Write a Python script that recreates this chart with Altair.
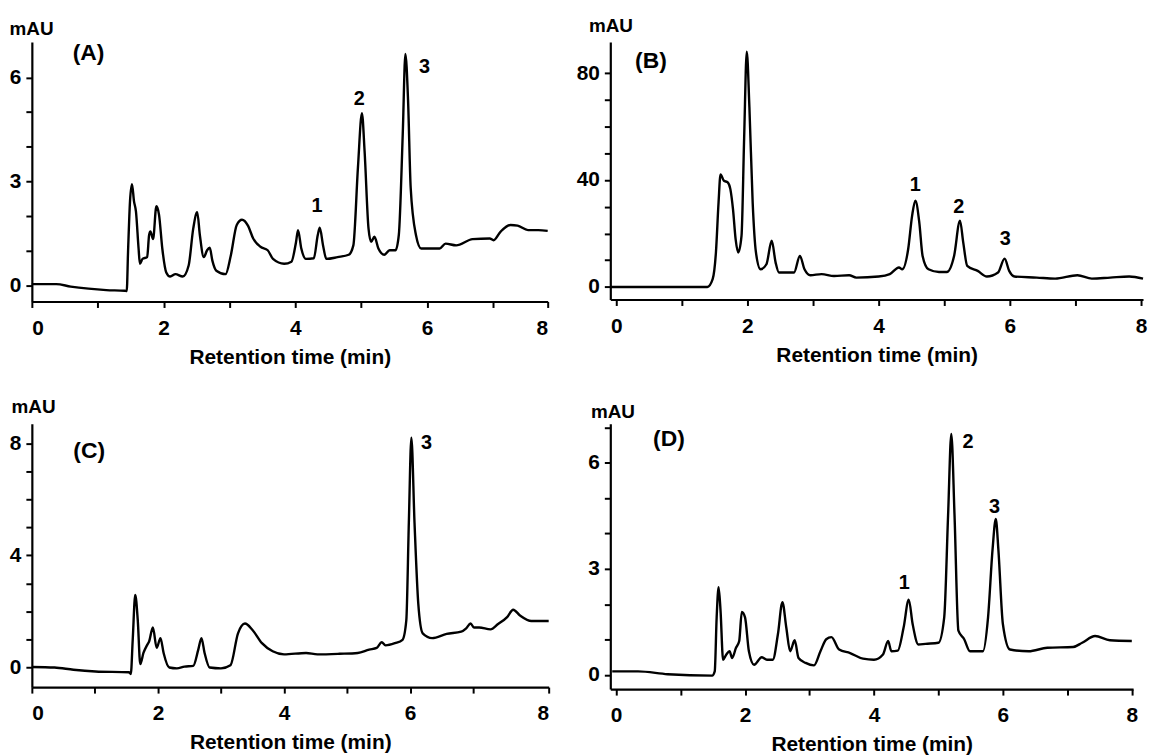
import altair as alt
import pandas as pd

FONT = "Liberation Sans"

# ---------------- Panel A ----------------
tA = [0, 0.37, 0.59, 0.86, 1.13, 1.41, 1.44, 1.46, 1.49, 1.52, 1.55, 1.58, 1.62, 1.64, 1.68, 1.75,
      1.78, 1.80, 1.84, 1.89, 1.93, 1.98, 2.04, 2.10, 2.18, 2.29, 2.38, 2.45, 2.51, 2.55, 2.61, 2.66,
      2.70, 2.74, 2.80, 2.94, 3.02, 3.11, 3.19, 3.28, 3.36, 3.47, 3.58, 3.66, 3.83, 3.94, 4.01, 4.04,
      4.09, 4.16, 4.28, 4.34, 4.37, 4.42, 4.47, 4.64, 4.81, 4.88, 4.95, 5.01, 5.05, 5.11, 5.15, 5.20,
      5.26, 5.35, 5.43, 5.52, 5.57, 5.63, 5.67, 5.71, 5.75, 5.83, 5.91, 6.19, 6.28, 6.44, 6.69, 6.95,
      7.01, 7.14, 7.32, 7.45, 7.64, 7.83, 8.0]
vA = [0.03, 0.03, -0.04, -0.10, -0.14, -0.16, -0.17, 0.96, 2.43, 2.92, 2.43, 2.13, 1.06, 0.62, 0.76, 0.81,
      1.45, 1.55, 1.33, 2.28, 2.04, 1.06, 0.37, 0.25, 0.32, 0.25, 0.57, 1.64, 2.11, 1.45, 0.81, 1.01,
      1.08, 0.71, 0.42, 0.32, 0.86, 1.74, 1.89, 1.72, 1.35, 1.11, 1.01, 0.76, 0.62, 0.68, 1.25, 1.59,
      1.06, 0.76, 0.78, 1.45, 1.66, 1.15, 0.76, 0.81, 0.88, 1.15, 3.41, 4.97, 3.89, 1.64, 1.25, 1.40,
      1.06, 0.88, 1.01, 1.01, 1.45, 4.38, 6.68, 5.36, 2.82, 1.45, 1.06, 1.06, 1.20, 1.15, 1.33, 1.35,
      1.30, 1.55, 1.74, 1.72, 1.59, 1.59, 1.57]
peakA_t = [4.33, 4.97, 5.96]
peakA_v = [2.28, 5.38, 6.29]
peakA_s = ["1", "2", "3"]

# ---------------- Panel B ----------------
tB = [-0.08, 1.39, 1.47, 1.52, 1.56, 1.59, 1.64, 1.70, 1.74, 1.78, 1.82, 1.86, 1.91, 1.95, 1.99, 2.03,
      2.08, 2.13, 2.20, 2.29, 2.37, 2.43, 2.48, 2.71, 2.80, 2.87, 2.96, 3.13, 3.32, 3.55, 3.66, 4.00,
      4.17, 4.31, 4.36, 4.45, 4.51, 4.56, 4.62, 4.67, 4.76, 4.92, 5.04, 5.15, 5.24, 5.29, 5.35, 5.51,
      5.65, 5.82, 5.92, 5.99, 6.07, 6.41, 6.69, 7.03, 7.25, 7.53, 7.82, 8.03]
vB = [0, 0, 2.9, 12.9, 31.6, 42.1, 39.8, 39.1, 36.6, 29.1, 17.9, 12.9, 19.1, 55.6, 88.0, 67.4,
      31.6, 12.9, 6.6, 8.5, 17.3, 9.1, 5.4, 5.4, 11.6, 6.6, 4.4, 4.8, 4.1, 4.4, 3.5, 3.9,
      4.8, 7.3, 6.6, 14.1, 26.6, 32.3, 24.1, 11.6, 6.6, 5.6, 5.6, 11.6, 24.8, 16.6, 7.9, 6.0,
      3.9, 5.4, 10.6, 6.0, 3.9, 3.5, 3.1, 4.4, 3.1, 3.5, 3.9, 3.1]
peakB_t = [4.56, 5.22, 5.93]
peakB_v = [38.1, 29.8, 18.1]
peakB_s = ["1", "2", "3"]

# ---------------- Panel C ----------------
tC = [0, 0.36, 0.66, 1.01, 1.54, 1.57, 1.60, 1.64, 1.68, 1.72, 1.77, 1.83, 1.86, 1.92, 1.98, 2.04,
      2.09, 2.18, 2.30, 2.42, 2.56, 2.64, 2.69, 2.74, 2.82, 3.00, 3.15, 3.27, 3.38, 3.50, 3.65, 3.82,
      4.00, 4.35, 4.53, 4.88, 5.17, 5.35, 5.47, 5.55, 5.61, 5.76, 5.88, 5.94, 5.98, 6.02, 6.07, 6.13,
      6.20, 6.35, 6.58, 6.81, 6.89, 6.96, 7.01, 7.08, 7.23, 7.33, 7.45, 7.53, 7.62, 7.77, 8.0]
vC = [0.02, 0, -0.08, -0.14, -0.17, -0.23, 0.99, 2.59, 1.69, 0.12, 0.52, 0.81, 0.93, 1.43, 0.70, 1.05,
      0.52, 0, -0.03, 0.03, 0.06, 0.64, 1.05, 0.52, 0, -0.03, 0.08, 1.22, 1.57, 1.34, 0.87, 0.58,
      0.47, 0.52, 0.47, 0.49, 0.52, 0.64, 0.70, 0.90, 0.79, 0.87, 0.99, 1.69, 5.17, 8.2, 5.17, 2.27,
      1.22, 1.05, 1.20, 1.28, 1.40, 1.57, 1.43, 1.43, 1.36, 1.55, 1.80, 2.06, 1.86, 1.66, 1.66]
peakC_t = [6.26]
peakC_v = [8.0]
peakC_s = ["3"]

# ---------------- Panel D ----------------
tD = [-0.06, 0, 0.34, 0.80, 1.49, 1.53, 1.56, 1.59, 1.62, 1.66, 1.71, 1.76, 1.80, 1.86, 1.91, 1.95,
      2.00, 2.06, 2.14, 2.26, 2.34, 2.43, 2.51, 2.58, 2.64, 2.70, 2.77, 2.83, 2.94, 3.07, 3.17, 3.26,
      3.34, 3.46, 3.63, 3.83, 4.00, 4.14, 4.22, 4.27, 4.37, 4.46, 4.54, 4.60, 4.69, 4.80, 5.00, 5.09,
      5.15, 5.20, 5.25, 5.31, 5.40, 5.49, 5.69, 5.77, 5.84, 5.89, 5.93, 6.00, 6.11, 6.40, 6.69, 7.09,
      7.23, 7.43, 7.66, 8.0]
vD = [0.10, 0.10, 0.10, 0.02, -0.02, 0.10, 1.63, 2.48, 1.82, 0.43, 0.58, 0.67, 0.48, 0.77, 0.96, 1.78,
      1.63, 0.67, 0.29, 0.50, 0.43, 0.43, 1.15, 2.06, 1.34, 0.67, 0.98, 0.48, 0.34, 0.27, 0.67, 1.01,
      1.07, 0.72, 0.62, 0.46, 0.43, 0.58, 0.96, 0.67, 0.69, 1.34, 2.13, 1.44, 0.86, 0.88, 0.91, 1.63,
      4.51, 6.81, 4.51, 1.25, 1.01, 0.67, 0.67, 1.63, 3.55, 4.41, 3.55, 1.44, 0.72, 0.67, 0.77, 0.79,
      0.91, 1.10, 0.98, 0.96]
peakD_t = [4.47, 5.46, 5.87]
peakD_v = [2.61, 6.59, 4.75]
peakD_s = ["1", "2", "3"]

# panel letters
letters = ["(A)", "(B)", "(C)", "(D)"]
letter_t = [0.86, 0.53, 0.91, 0.82]
letter_v = [6.7, 84.4, 7.72, 6.66]

x_ticks = [0, 1, 2, 3, 4, 5, 6, 7, 8]

TICK = dict(ticks=True, tickSize=6, tickWidth=2, tickColor="black",
            labelOverlap=False, domainColor="black", domainWidth=2.2, grid=False,
            labelFont=FONT, labelFontSize=21, labelFontWeight="bold", labelColor="black",
            titleFont=FONT, titleFontWeight="bold", titleColor="black")


def panel(t, v, pk_t, pk_v, pk_s, letter, lt, lv, xscale, ydom, yticks, ylab, w, h, title_x, title_y):
    line_df = pd.DataFrame({"t": t, "v": v})
    pk_df = pd.DataFrame({"t": pk_t, "v": pk_v, "s": pk_s})
    let_df = pd.DataFrame({"t": [lt], "v": [lv], "s": [letter]})
    x = alt.X("t:Q",
              scale=xscale,
              axis=alt.Axis(values=x_ticks,
                            labelExpr="indexof([0,2,4,6,8], datum.value) >= 0 ? '' + datum.value : ''",
                            title="Retention time (min)", titleFontSize=21,
                            labelPadding=10, titlePadding=8, **TICK))
    y = alt.Y("v:Q",
              scale=alt.Scale(domain=ydom, nice=False, zero=False),
              axis=alt.Axis(values=yticks,
                            labelExpr="indexof(" + str(ylab) + ", datum.value) >= 0 ? '' + datum.value : ''",
                            title="mAU", titleAngle=0, titleAlign="left",
                            titleBaseline="middle", titleX=title_x, titleY=title_y,
                            titleFontSize=19, labelPadding=5, **TICK))
    line = alt.Chart(line_df).mark_line(color="black", strokeWidth=2.4,
                                        interpolate="monotone").encode(x=x, y=y)
    pk = alt.Chart(pk_df).mark_text(font=FONT, fontWeight="bold", fontSize=20, color="black",
                                    align="center", baseline="middle").encode(
        x=x, y=y, text="s:N")
    let = alt.Chart(let_df).mark_text(font=FONT, fontWeight="bold", fontSize=23, color="black",
                                      align="center", baseline="middle").encode(
        x=x, y=y, text="s:N")
    return alt.layer(line, pk, let).properties(width=w, height=h)


# A and C: the last minute of the printed time axis is drawn at a different spacing
xsA = alt.Scale(domain=[0, 7, 8], range=[0, 464, 519], nice=False, zero=False)
xsB = alt.Scale(domain=[-0.09, 8.03], nice=False, zero=False)
xsC = alt.Scale(domain=[0, 7, 8], range=[0, 444, 520], nice=False, zero=False)
xsD = alt.Scale(domain=[-0.09, 8.02], nice=False, zero=False)

pA = panel(tA, vA, peakA_t, peakA_v, peakA_s, letters[0], letter_t[0], letter_v[0],
           xsA, [-0.47, 7.02], [0, 1, 2, 3, 4, 5, 6], [0, 3, 6], 519, 261, -23, -14)
pB = panel(tB, vB, peakB_t, peakB_v, peakB_s, letters[1], letter_t[1], letter_v[1],
           xsB, [-4.7, 91.6], [0, 10, 20, 30, 40, 50, 60, 70, 80], [0, 40, 80],
           536, 259, -22, -17)
pC = panel(tC, vC, peakC_t, peakC_v, peakC_s, letters[2], letter_t[2], letter_v[2],
           xsC, [-0.7, 8.7], [0, 1, 2, 3, 4, 5, 6, 7, 8], [0, 4, 8], 520, 265, -21, -17)
pD = panel(tD, vD, peakD_t, peakD_v, peakD_s, letters[3], letter_t[3], letter_v[3],
           xsD, [-0.4, 7.1], [0, 1, 2, 3, 4, 5, 6, 7], [0, 3, 6], 526, 267, -20, -12)

chart = alt.concat(pA, pB, pC, pD, columns=2,
                   spacing=alt.RowColnumber(row=123, column=62)).properties(
    bounds="flush"
).configure(
    padding={"left": 1, "top": 6, "right": 0, "bottom": 0},
    font=FONT,
).configure_view(
    stroke=None
)

chart.save("out.html", embed_options={"renderer": "svg", "actions": False})
